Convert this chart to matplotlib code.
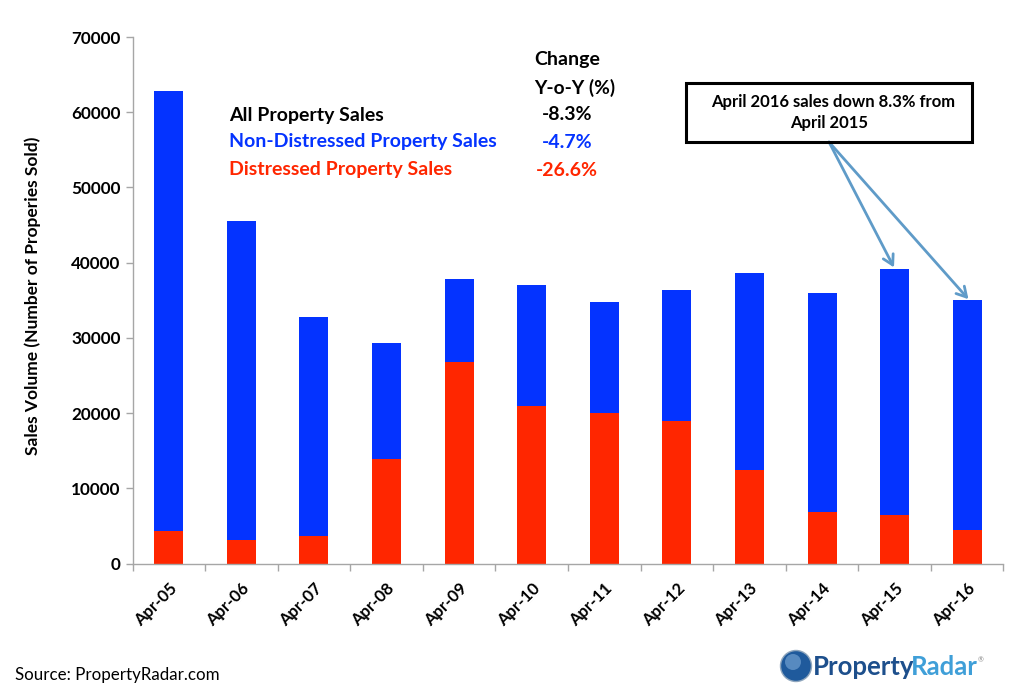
import matplotlib
matplotlib.use('Agg')
import matplotlib.pyplot as plt
from matplotlib.patches import Circle, Rectangle

plt.rcParams['font.family'] = ['Lato', 'DejaVu Sans']

months = ['Apr-05', 'Apr-06', 'Apr-07', 'Apr-08', 'Apr-09', 'Apr-10',
          'Apr-11', 'Apr-12', 'Apr-13', 'Apr-14', 'Apr-15', 'Apr-16']
totals = [62800, 45500, 32800, 29300, 37800, 37000,
          34800, 36400, 38600, 35900, 39200, 35000]
distressed = [4300, 3100, 3700, 13900, 26800, 21000,
              20000, 18900, 12400, 6800, 6500, 4500]
non_distressed = [t - d for t, d in zip(totals, distressed)]

BLUE = '#0433ff'
RED = '#ff2600'
ARROW = '#5f9bc8'
AXIS = '#a6a6a6'

fig = plt.figure(figsize=(10.24, 6.96), dpi=100)
ax = fig.add_axes([132.5 / 1024, 1 - 563.5 / 696, 871 / 1024, 526.5 / 696])

x = list(range(len(months)))
ax.bar(x, distressed, width=0.4, color=RED)
ax.bar(x, non_distressed, width=0.4, bottom=distressed, color=BLUE)

ax.set_xlim(-0.5, 11.5)
ax.set_ylim(0, 70000)
ax.set_yticks(range(0, 70001, 10000))
ax.set_xticks(x)
ax.set_xticks([i - 0.5 for i in range(len(months) + 1)], minor=True)
ax.set_xticklabels(months, rotation=45, ha='right', rotation_mode='anchor',
                   fontsize=12, fontweight='bold')
ax.tick_params(axis='x', which='major', length=0, pad=12)
ax.tick_params(axis='x', which='minor', length=5, color=AXIS, width=1)
ax.tick_params(axis='y', labelsize=12.3, length=5, color=AXIS, width=1)
for label in ax.get_yticklabels():
    label.set_fontweight('bold')
for side in ['top', 'right']:
    ax.spines[side].set_visible(False)
for side in ['left', 'bottom']:
    ax.spines[side].set_color(AXIS)
    ax.spines[side].set_linewidth(1)
ax.set_ylabel('Sales Volume (Number of Properies Sold)', fontsize=12.5,
              fontweight='bold')
ax.yaxis.set_label_coords(41 / 1024, 1 - 296 / 696, transform=fig.transFigure)


def pix(px, py):
    return px / 1024, 1 - py / 696


# summary table
rows = [('All Property Sales', '-8.3%', 'black', 115),
        ('Non-Distressed Property Sales', '-4.7%', BLUE, 142),
        ('Distressed Property Sales', '-26.6%', RED, 170)]
fig.text(*pix(567, 60), 'Change', ha='center', va='center', fontsize=14, fontweight='bold')
fig.text(*pix(575, 88), 'Y-o-Y (%)', ha='center', va='center', fontsize=13.8, fontweight='bold')
for name, change, color, py in rows:
    fig.text(*pix(229, py), name, ha='left', va='center', fontsize=14,
             fontweight='bold', color=color)
    fig.text(*pix(567, py), change, ha='center', va='center', fontsize=14,
             fontweight='bold', color=color)

# callout arrows, then box
for tx, ty in [(10, 39200), (11.03, 35000)]:
    ax.annotate('', xy=(tx, ty), xycoords='data', xytext=pix(829, 142),
                textcoords='figure fraction',
                arrowprops=dict(arrowstyle='->,head_length=0.7,head_width=0.4',
                                color=ARROW, lw=2, shrinkA=0, shrinkB=1))
fig.patches.append(Rectangle(pix(686, 142), 286 / 1024, 59 / 696, transform=fig.transFigure,
                             fill=False, ec='black', lw=2.2))
fig.text(*pix(833, 102), 'April 2016 sales down 8.3% from', ha='center', va='center',
         fontsize=12, fontweight='bold')
fig.text(*pix(829, 123), 'April 2015', ha='center', va='center',
         fontsize=12, fontweight='bold')

fig.text(*pix(15, 675), 'Source: PropertyRadar.com', ha='left', va='center', fontsize=12.2)

# logo
fig.patches.append(Circle((796, 696 - 666), 15.5, transform=None, fc='#1f5a9c', ec='#8fa6bd', lw=1))
fig.patches.append(Circle((793, 696 - 662), 8, transform=None, fc='#6f9fd0', ec='none', alpha=0.7))
fig.text(*pix(813, 667), 'Property', ha='left', va='center', fontsize=18.5,
         fontweight='bold', color='#1d4f8c')
fig.text(*pix(911, 667), 'Radar', ha='left', va='center', fontsize=18.5,
         fontweight='bold', color='#3f9fd8')
fig.text(*pix(978, 660), '®', ha='left', va='center', fontsize=5, color='#888888')

fig.savefig('out.png', dpi=100)
